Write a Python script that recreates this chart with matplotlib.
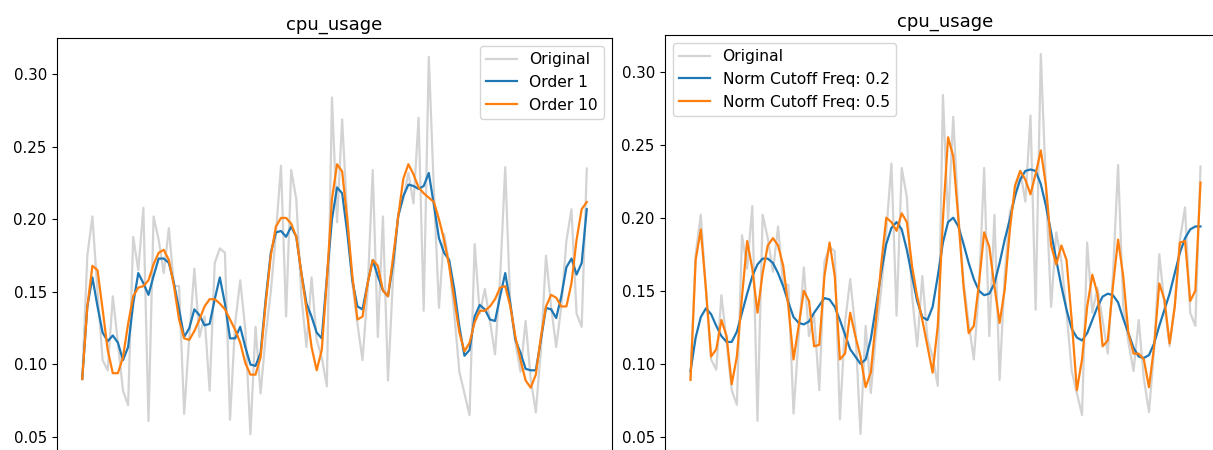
import numpy as np
import matplotlib
matplotlib.use("Agg")
import matplotlib.pyplot as plt

# cpu_usage samples
original = [
    0.090, 0.175, 0.202, 0.150, 0.103, 0.096, 0.147, 0.115, 0.082, 0.072,
    0.188, 0.165, 0.208, 0.061, 0.202, 0.186, 0.163, 0.194, 0.154, 0.154,
    0.066, 0.119, 0.166, 0.119, 0.133, 0.082, 0.170, 0.180, 0.177, 0.062,
    0.128, 0.158, 0.124, 0.052,
    0.126, 0.080, 0.120, 0.150, 0.190, 0.237, 0.133, 0.234, 0.214, 0.147,
    0.112, 0.160, 0.117, 0.105, 0.085, 0.284, 0.198, 0.269, 0.202, 0.156,
    0.128, 0.103, 0.151, 0.234, 0.119, 0.202, 0.089, 0.161, 0.204, 0.214,
    0.232, 0.211, 0.270, 0.137, 0.312,
    0.220, 0.139, 0.190, 0.170, 0.135, 0.095, 0.080, 0.065, 0.183, 0.135,
    0.152, 0.130, 0.107, 0.160, 0.236, 0.140, 0.115, 0.095, 0.130, 0.090,
    0.067, 0.110, 0.175, 0.140, 0.112, 0.140, 0.185, 0.207, 0.135, 0.126,
    0.235,
]

order_1 = [
    0.090, 0.140, 0.160, 0.140, 0.122, 0.116, 0.120, 0.115, 0.103, 0.112,
    0.142, 0.163, 0.156, 0.148, 0.161, 0.173, 0.173, 0.170, 0.156, 0.138,
    0.119, 0.125, 0.138, 0.134, 0.127, 0.128, 0.145, 0.160, 0.142, 0.118,
    0.118, 0.126, 0.112, 0.100,
    0.099, 0.108, 0.145, 0.177, 0.191, 0.192, 0.188, 0.195, 0.188, 0.163,
    0.142, 0.133, 0.122, 0.118, 0.160, 0.200, 0.222, 0.218, 0.191, 0.158,
    0.140, 0.138, 0.156, 0.172, 0.161, 0.151, 0.147, 0.170, 0.202, 0.216,
    0.224, 0.223, 0.221, 0.223, 0.232,
    0.210, 0.187, 0.177, 0.172, 0.152, 0.126, 0.106, 0.110, 0.133, 0.141,
    0.138, 0.131, 0.130, 0.147, 0.163, 0.142, 0.117, 0.108, 0.097, 0.096,
    0.096, 0.117, 0.139, 0.138, 0.132, 0.147, 0.167, 0.173, 0.162, 0.170,
    0.207,
]

order_10 = [
    0.090, 0.140, 0.168, 0.165, 0.138, 0.110, 0.094, 0.094, 0.105, 0.128,
    0.147, 0.153, 0.154, 0.158, 0.169, 0.177, 0.179, 0.172, 0.154, 0.131,
    0.118, 0.117, 0.123, 0.131, 0.140, 0.145, 0.145, 0.142, 0.138, 0.131,
    0.124, 0.115, 0.101, 0.093,
    0.093, 0.105, 0.142, 0.175, 0.195, 0.201, 0.201, 0.197, 0.188, 0.163,
    0.138, 0.112, 0.096, 0.110, 0.158, 0.214, 0.238, 0.233, 0.200, 0.161,
    0.131, 0.133, 0.156, 0.172, 0.168, 0.151, 0.147, 0.174, 0.202, 0.228,
    0.238, 0.231, 0.222, 0.218, 0.215,
    0.212, 0.200, 0.186, 0.168, 0.145, 0.122, 0.109, 0.115, 0.129, 0.137,
    0.137, 0.140, 0.145, 0.153, 0.154, 0.140, 0.119, 0.103, 0.089, 0.084,
    0.093, 0.119, 0.140, 0.148, 0.146, 0.140, 0.140, 0.156, 0.186, 0.207,
    0.212,
]

cutoff_02 = [
    0.095, 0.118, 0.132, 0.138, 0.134, 0.126, 0.119, 0.115, 0.115, 0.122,
    0.135, 0.148, 0.160, 0.168, 0.172, 0.172, 0.169, 0.162, 0.153, 0.142,
    0.132, 0.128, 0.127, 0.129, 0.135, 0.140, 0.145, 0.144, 0.139, 0.130,
    0.120, 0.110, 0.105, 0.100,
    0.103, 0.117, 0.139, 0.162, 0.182, 0.193, 0.197, 0.192, 0.178, 0.160,
    0.143, 0.132, 0.130, 0.139, 0.160, 0.183, 0.197, 0.200, 0.194, 0.182,
    0.169, 0.158, 0.150, 0.147, 0.148, 0.155, 0.169, 0.185, 0.199, 0.215,
    0.226, 0.232, 0.233,
    0.232, 0.223, 0.208, 0.190, 0.171, 0.153, 0.137, 0.124, 0.118, 0.116,
    0.121, 0.130, 0.139, 0.146, 0.148, 0.147, 0.142, 0.131, 0.121, 0.111,
    0.105, 0.104, 0.106, 0.114, 0.126, 0.137, 0.148, 0.162, 0.176, 0.186,
    0.192, 0.194, 0.194,
]

cutoff_05 = [
    0.089, 0.171, 0.192, 0.151, 0.105, 0.110, 0.130, 0.119, 0.086, 0.105,
    0.146, 0.184, 0.165, 0.135, 0.162, 0.181, 0.186, 0.181, 0.167, 0.139,
    0.103, 0.126, 0.150, 0.143, 0.112, 0.113, 0.160, 0.183, 0.160, 0.103,
    0.107, 0.135, 0.119, 0.105,
    0.084, 0.094, 0.130, 0.167, 0.200, 0.197, 0.191, 0.203, 0.197, 0.167,
    0.146, 0.130, 0.112, 0.094, 0.126, 0.199, 0.255, 0.242, 0.199, 0.153,
    0.121, 0.126, 0.155, 0.190, 0.180, 0.153, 0.128, 0.151, 0.192, 0.222,
    0.232, 0.226, 0.216,
    0.230, 0.246, 0.222, 0.181, 0.168, 0.181, 0.171, 0.130, 0.082, 0.103,
    0.139, 0.161, 0.148, 0.112, 0.116, 0.153, 0.185, 0.160, 0.121, 0.107,
    0.107, 0.103, 0.084, 0.112, 0.155, 0.144, 0.114, 0.139, 0.183, 0.184,
    0.143, 0.150, 0.224,
]

t = np.arange(len(original))

fs = 10.8
lw = 1.6
gray = "#d3d3d3"

fig = plt.figure(figsize=(12.13, 4.5), dpi=100)
# the screenshot cuts both panels just above their bottom spine
ax1 = fig.add_axes([57 / 1213, -3 / 450, 555 / 1213, 415 / 450])
ax2 = fig.add_axes([665 / 1213, -3 / 450, 561 / 1213, 418 / 450])

ax1.plot(t, original, color=gray, lw=lw, label="Original")
ax1.plot(t, order_1, color="C0", lw=lw, label="Order 1")
ax1.plot(t, order_10, color="C1", lw=lw, label="Order 10")
ax1.legend(loc="upper right", fontsize=11.2)

ax2.plot(t, original, color=gray, lw=lw, label="Original")
ax2.plot(t, cutoff_02, color="C0", lw=lw, label="Norm Cutoff Freq: 0.2")
ax2.plot(t, cutoff_05, color="C1", lw=lw, label="Norm Cutoff Freq: 0.5")
ax2.legend(loc="upper left", fontsize=11.2)

for ax in (ax1, ax2):
    ax.set_title("cpu_usage", fontsize=13)
    ax.tick_params(labelsize=fs, length=3.8)
    # x tick labels sit below the crop of the screenshot
    ax.tick_params(axis="x", labelbottom=False)

plt.savefig("out.png", dpi=100)
